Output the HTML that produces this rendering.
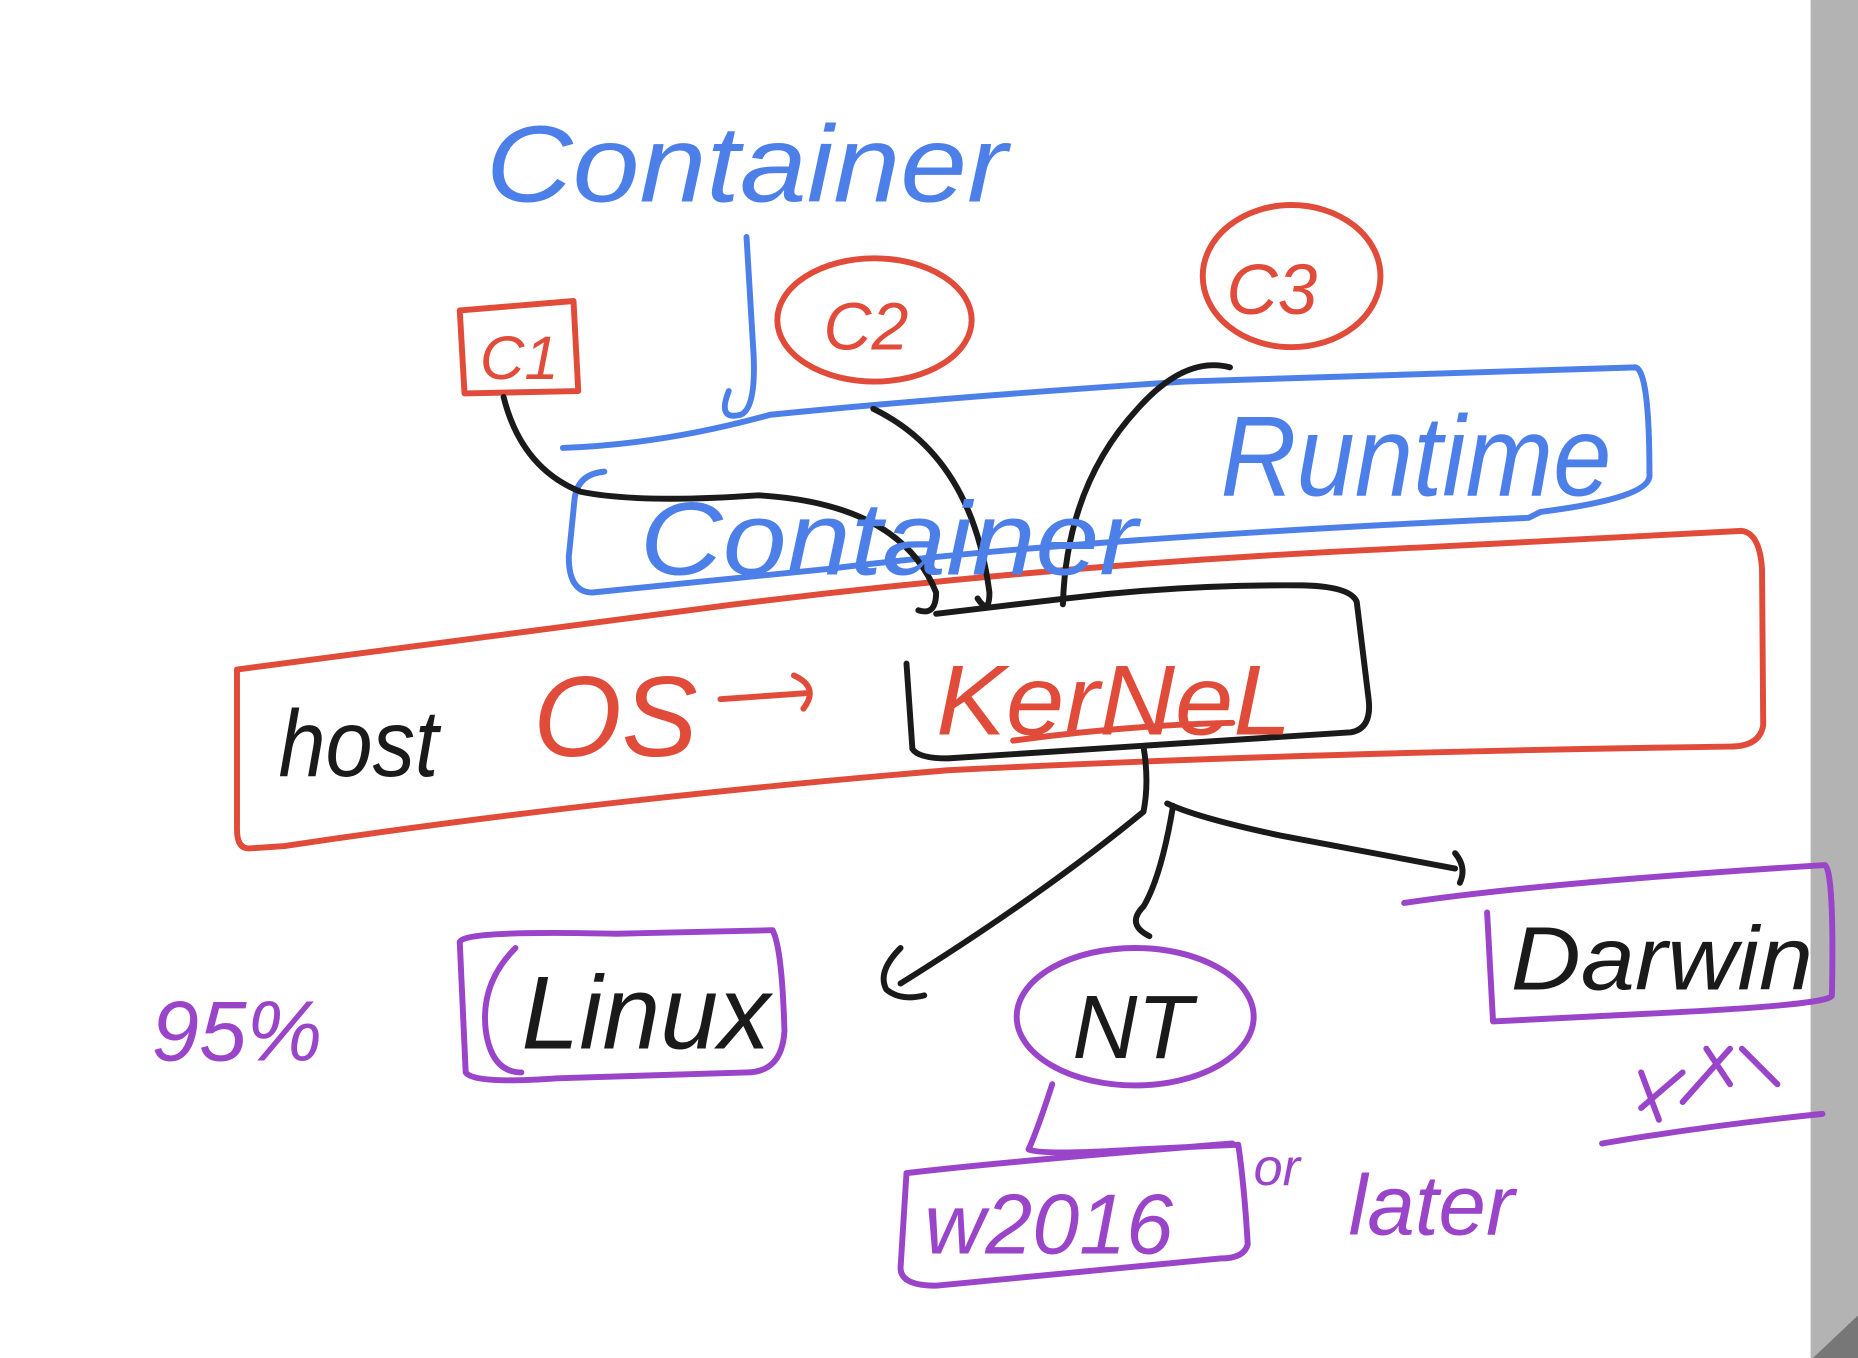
<!DOCTYPE html>
<html><head><meta charset="utf-8"><style>
html,body{margin:0;padding:0;background:#fff;}
svg{display:block;}
text{font-family:"Liberation Sans",sans-serif;}
</style></head><body>
<svg width="1858" height="1358" viewBox="0 0 1568 1146" xmlns="http://www.w3.org/2000/svg">
<rect x="0" y="0" width="1568" height="1146" fill="#fff"/>
<rect x="1528" y="0" width="40" height="1146" fill="#b3b3b3"/>
<polygon points="1568,1110 1568,1146 1530,1146" fill="#777"/>
<g fill="none" stroke-linecap="round" stroke-linejoin="round" stroke-width="5">
<!-- blue -->
<g stroke="#4d7fe8">
<path d="M630,200 L636,300 Q638,345 625,350 Q605,355 615,330"/>
<path d="M475,378 Q560,375 650,350 Q800,335 1000,322 L1380,310 Q1392,312 1392,400 Q1395,420 1300,432 L1290,437 Q900,455 700,480 L500,500 Q480,500 480,470 L485,420 Q488,400 510,398"/>
</g>
<!-- red -->
<g stroke="#e04b3a">
<path d="M388,262 L484,254 L488,330 L392,332 Z"/>
<ellipse cx="738" cy="270" rx="82" ry="52"/>
<ellipse cx="1090" cy="233" rx="75" ry="60"/>
<path d="M200,565 Q350,545 620,510 Q900,475 1200,462 L1470,448 Q1485,450 1487,480 L1488,612 Q1485,630 1460,630 Q1100,635 800,650 Q500,675 240,714 L210,716 Q200,716 200,700 Z"/>
<path d="M608,590 L680,585 M670,570 Q692,580 678,598"/>
<path d="M855,625 Q950,612 1040,610"/>
</g>
<!-- black -->
<g stroke="#1a1a1a">
<path d="M765,560 L770,632 Q775,640 800,640 Q950,630 1140,618 Q1158,615 1155,590 L1145,508 Q1140,495 1100,494 Q1000,493 900,505 L790,518"/>
<path d="M425,335 Q440,395 490,415 Q540,425 640,418 Q760,425 790,500 Q790,520 775,515"/>
<path d="M737,345 Q820,385 835,500 Q835,520 825,505"/>
<path d="M1038,310 Q1000,300 960,345 Q900,410 897,510"/>
<path d="M965,630 Q970,660 965,685 Q880,755 760,830 M760,800 Q740,820 748,835 Q760,845 780,840"/>
<path d="M990,680 Q980,740 965,765 Q950,780 970,790"/>
<path d="M985,678 Q1010,690 1080,705 Q1160,720 1228,733 M1228,720 Q1238,732 1232,745"/>
</g>
<!-- purple -->
<g stroke="#9a44c9">
<path d="M388,795 Q390,785 520,788 L652,785 Q660,800 662,870 Q660,905 630,905 L470,910 Q400,915 393,905 Z"/>
<path d="M435,800 Q405,830 410,870 Q415,905 440,905"/>
<ellipse cx="958" cy="858" rx="100" ry="58"/>
<path d="M888,915 Q875,955 868,970 Q880,975 960,970 L1045,966 Q1050,1000 1053,1050 Q1050,1062 1030,1062 L790,1085 Q760,1085 760,1070 L765,990 Q850,980 1040,965"/>
<path d="M1185,762 Q1300,745 1540,730 Q1548,735 1546,840 Q1545,848 1400,855 L1260,862 L1255,770"/>
<path d="M1352,965 Q1440,950 1538,940"/>
<path d="M1385,905 L1400,945 M1385,935 L1420,905 M1420,930 L1460,885 M1440,885 L1460,915 M1470,885 L1500,915"/>
</g>
</g>
<g font-style="italic">
<text x="410" y="170" font-size="92" fill="#4d7fe8" textLength="440" lengthAdjust="spacingAndGlyphs">Container</text>
<text x="540" y="485" font-size="88" fill="#4d7fe8" textLength="420" lengthAdjust="spacingAndGlyphs">Container</text>
<text x="1030" y="418" font-size="96" fill="#4d7fe8" textLength="330" lengthAdjust="spacingAndGlyphs">Runtime</text>
<text x="405" y="320" font-size="52" fill="#e04b3a">C1</text>
<text x="695" y="295" font-size="56" fill="#e04b3a">C2</text>
<text x="1035" y="265" font-size="60" fill="#e04b3a">C3</text>
<text x="450" y="638" font-size="96" fill="#e04b3a">OS</text>
<text x="790" y="620" font-size="84" fill="#e04b3a" textLength="300" lengthAdjust="spacingAndGlyphs">KerNeL</text>
<text x="235" y="655" font-size="80" fill="#1a1a1a" textLength="135" lengthAdjust="spacingAndGlyphs">host</text>
<text x="440" y="885" font-size="88" fill="#1a1a1a" textLength="210" lengthAdjust="spacingAndGlyphs">Linux</text>
<text x="905" y="893" font-size="76" fill="#1a1a1a">NT</text>
<text x="1275" y="835" font-size="76" fill="#1a1a1a" textLength="255" lengthAdjust="spacingAndGlyphs">Darwin</text>
<text x="128" y="895" font-size="72" fill="#9a44c9">95%</text>
<text x="780" y="1058" font-size="72" fill="#9a44c9" textLength="210" lengthAdjust="spacingAndGlyphs">w2016</text>
<text x="1058" y="1000" font-size="44" fill="#9a44c9">or</text>
<text x="1138" y="1042" font-size="72" fill="#9a44c9" textLength="140" lengthAdjust="spacingAndGlyphs">later</text>
</g>
</svg>
</body></html>
